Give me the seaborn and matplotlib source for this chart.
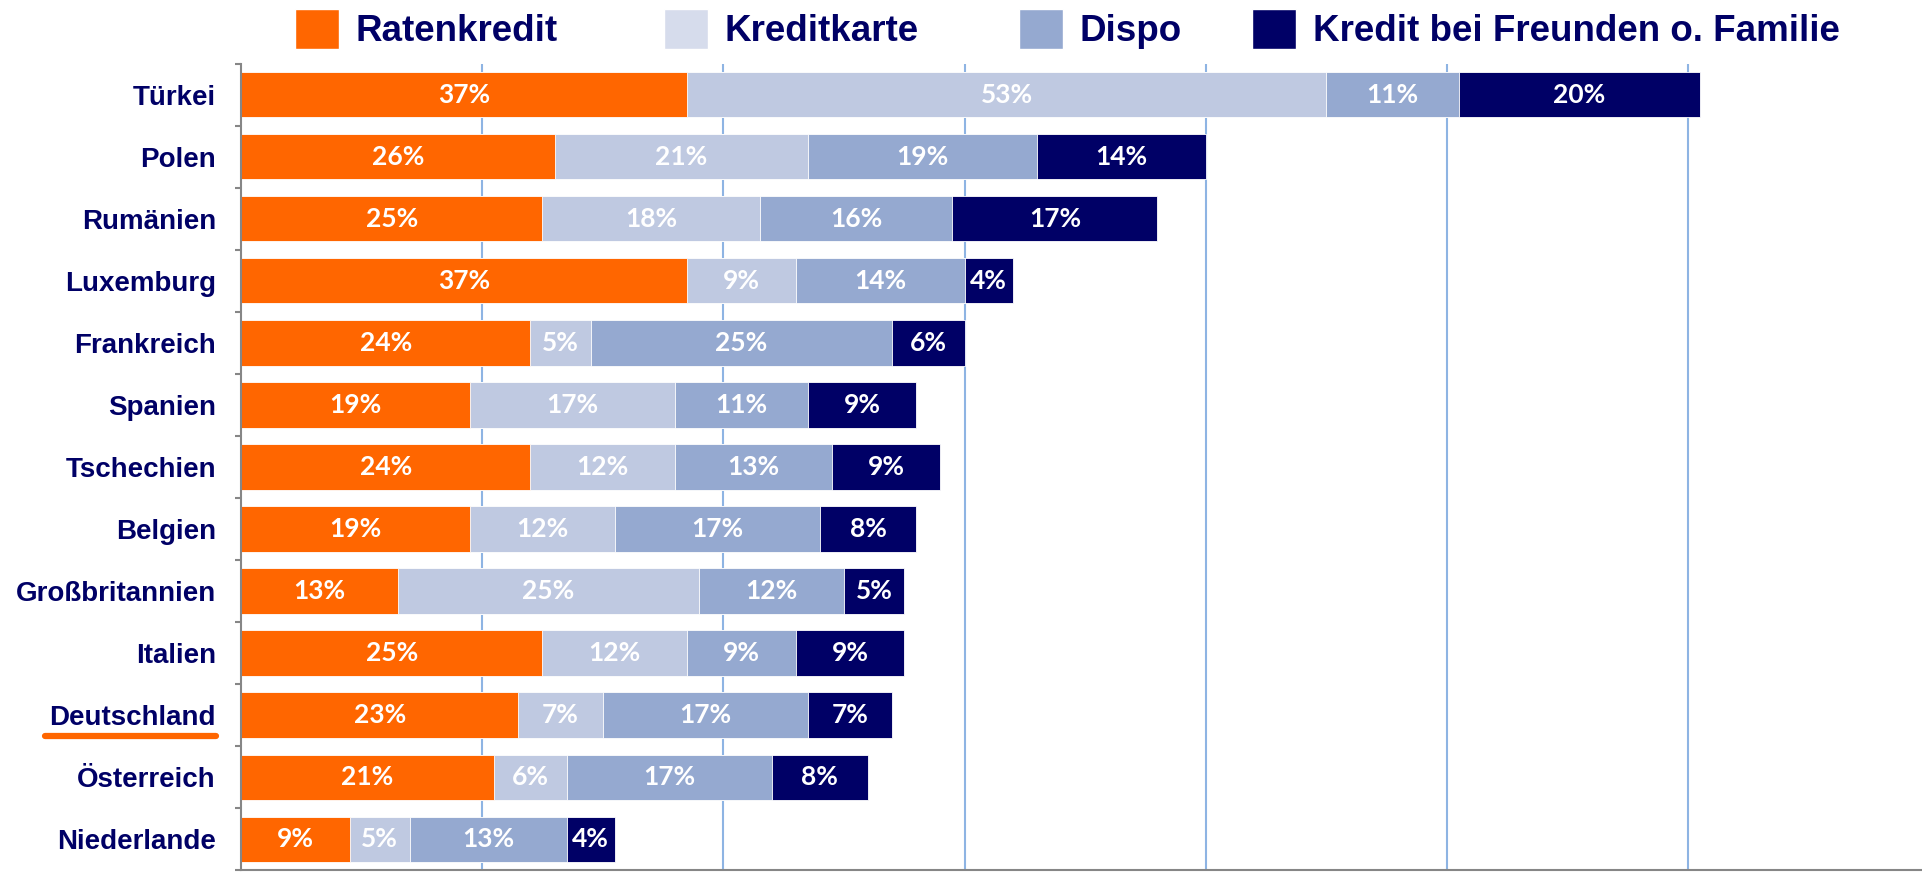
import numpy as np
import pandas as pd
import matplotlib.pyplot as plt
import seaborn as sns
from matplotlib.patches import Patch
from matplotlib.lines import Line2D

# Daten (von oben nach unten)
laender = ['Türkei', 'Polen', 'Rumänien', 'Luxemburg', 'Frankreich', 'Spanien',
           'Tschechien', 'Belgien', 'Großbritannien', 'Italien', 'Deutschland',
           'Österreich', 'Niederlande']
ratenkredit = [37, 26, 25, 37, 24, 19, 24, 19, 13, 25, 23, 21, 9]
kreditkarte = [53, 21, 18, 9, 5, 17, 12, 12, 25, 12, 7, 6, 5]
dispo = [11, 19, 16, 14, 25, 11, 13, 17, 12, 9, 17, 17, 13]
freunde = [20, 14, 17, 4, 6, 9, 9, 8, 5, 9, 7, 8, 4]

serien = ['Ratenkredit', 'Kreditkarte', 'Dispo', 'Kredit bei Freunden o. Familie']
farben = ['#FF6600', '#BFC9E1', '#95A9D0', '#000066']
legende_farben = ['#FF6600', '#D6DCEC', '#95A9D0', '#000066']
legende_x = [295, 664, 1019, 1252]  # linke Kante der Legendenkästchen (Pixel)
navy = '#000066'
grau = '#868686'

df = pd.DataFrame({'Land': laender, serien[0]: ratenkredit, serien[1]: kreditkarte,
                   serien[2]: dispo, serien[3]: freunde})
kumuliert = df[serien].cumsum(axis=1)

sns.set_theme(style='white')
schrift = ['Liberation Sans', 'DejaVu Sans']
plt.rcParams['font.family'] = schrift

fig = plt.figure(figsize=(19.22, 8.72), dpi=100)
ax = fig.add_axes([241 / 1922, 0.002, 1 - 241 / 1922, 0.925])

# gestapelte Balken: Summen von groß nach klein übereinander zeichnen
for s, c in reversed(list(zip(serien, farben))):
    sns.barplot(x=kumuliert[s], y=df['Land'], color=c, orient='y', width=0.73,
                saturation=1, edgecolor='white', linewidth=0.6, ax=ax, zorder=2)

# Beschriftungen in den Segmenten
for i, land in enumerate(laender):
    start = 0
    for s in serien:
        v = df.loc[i, s]
        ax.text(start + v / 2, i, f'{v}%', ha='center', va='center', color='white',
                fontsize=19, fontweight='bold', family=['Lato', 'DejaVu Sans'], zorder=3)
        start += v

ax.set_xlim(0, 139.4)
ax.set_ylim(12.5, -0.5)
ax.set_xlabel('')
ax.set_ylabel('')
ax.set_xticks(np.arange(20, 121, 20))
ax.xaxis.grid(True, color='#8EB4E3', linewidth=1.5)
ax.set_axisbelow(True)
ax.tick_params(axis='x', length=0, labelbottom=False)

for sp in ['top', 'right']:
    ax.spines[sp].set_visible(False)
for sp in ['left', 'bottom']:
    ax.spines[sp].set_color(grau)
    ax.spines[sp].set_linewidth(1.5)

ax.set_yticks(np.arange(-0.5, 13, 1), minor=True)
ax.tick_params(axis='y', which='major', length=0, pad=18, labelsize=20,
               labelcolor=navy)
ax.tick_params(axis='y', which='minor', length=4.5, width=1.5, color=grau,
               direction='out', left=True)
for lab in ax.get_yticklabels():
    lab.set_fontweight('bold')

# Legende oben: jeder Eintrag einzeln platziert
for s, c, x in zip(serien, legende_farben, legende_x):
    fig.legend(handles=[Patch(facecolor=c, label=s)], loc='upper left',
               bbox_to_anchor=(x / 1922, 1 - 9 / 872), frameon=False, labelcolor=navy,
               prop=dict(family=schrift, weight='bold', size=26.5),
               handlelength=1.2, handleheight=1.3, handletextpad=0.45,
               borderpad=0, borderaxespad=0)

# Deutschland hervorheben
fig.canvas.draw()
inv = fig.transFigure.inverted()
for lab in ax.get_yticklabels():
    if lab.get_text() == 'Deutschland':
        bb = lab.get_window_extent()
        p0 = inv.transform((bb.x0 - 5, bb.y0 - 5))
        p1 = inv.transform((bb.x1, bb.y0 - 5))
        fig.add_artist(Line2D([p0[0], p1[0]], [p0[1], p1[1]], color='#FF6600',
                              linewidth=4.5, transform=fig.transFigure))

plt.savefig('out.png', dpi=100)
